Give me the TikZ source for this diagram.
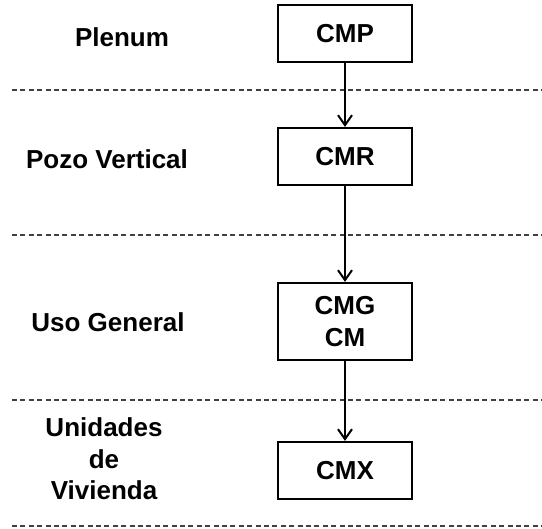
\documentclass[tikz,border=0pt]{standalone}
\usepackage{fontspec}
\setmainfont{Liberation Sans}
\usetikzlibrary{arrows.meta}
\tikzset{
  boxnode/.style={draw, line width=2.2pt, minimum width=134pt, minimum height=57pt, inner sep=0pt, align=center, font=\fontsize{26}{32}\selectfont\bfseries},
  lbl/.style={align=center, inner sep=0pt, font=\fontsize{26}{31.5}\selectfont\bfseries},
  flow/.style={line width=2pt, -{Straight Barb[length=10pt,width=14pt,line width=2pt]}},
  sep/.style={draw=black!75, line width=1.2pt, dash pattern=on 5pt off 3.4pt}
}
\begin{document}
\begin{tikzpicture}[x=1pt,y=-1pt]
\useasboundingbox (0,0) rectangle (542,529);
% separators
\foreach \yy in {90,235,400,526} \draw[sep] (12,\yy) -- (542,\yy);
% boxes
\node[boxnode] (cmp) at (345,33.5) {CMP};
\node[boxnode] (cmr) at (345,156.5) {CMR};
\node[boxnode, minimum height=77pt] (cmg) at (345,321.5) {CMG\\CM};
\node[boxnode] (cmx) at (345,470.5) {CMX};
% labels
\node[lbl] (l1) at (122,37.5) {Plenum};
\node[lbl] (l2) at (107,159.5) {Pozo Vertical};
\node[lbl] (l3) at (108,322.5) {Uso General};
\node[lbl] (l4) at (104,459) {Unidades\\de\\Vivienda};
% arrows
\draw[flow] (cmp) -- (cmr);
\draw[flow] (cmr) -- (cmg);
\draw[flow] (cmg) -- (cmx);
\end{tikzpicture}
\end{document}
